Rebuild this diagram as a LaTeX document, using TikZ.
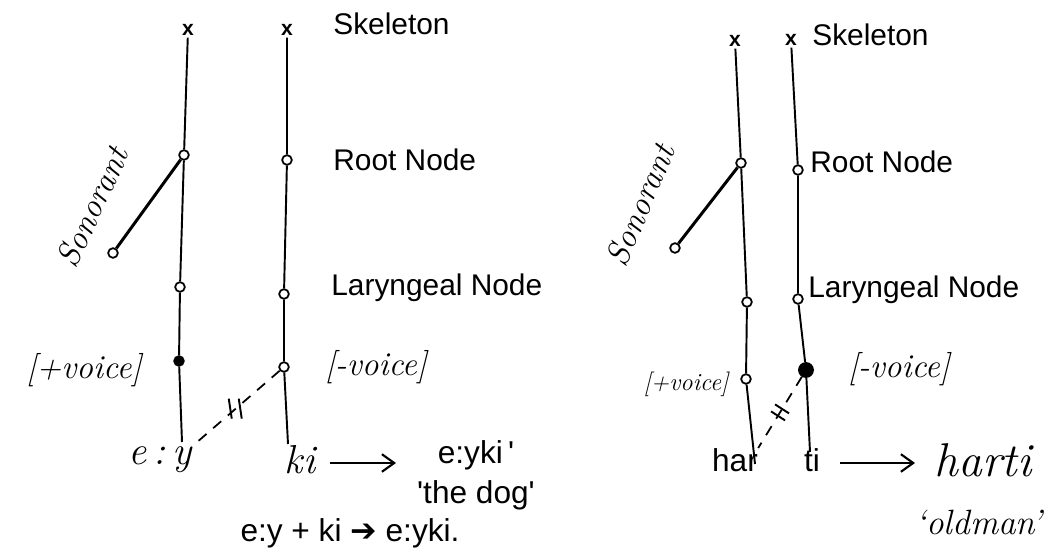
\documentclass[tikz,border=0pt]{standalone}
\usepackage{fontspec}
\setsansfont{Liberation Sans}
\newfontfamily\symfont{DejaVu Sans}
\usepackage{tikz}
\usetikzlibrary{arrows.meta, positioning}

\begin{document}
\begin{tikzpicture}[
        x=0.02cm, y=-0.02cm,
        tier/.style = {draw=black, line width=1.1pt},
        sonline/.style = {draw=black, line width=1.7pt},
        spread/.style = {draw=black, line width=1pt, dash pattern=on 6pt off 5pt},
        fnode/.style = {draw, circle, fill=white, inner sep=0pt, minimum size=5.5pt, line width=1pt},
        fnodefull/.style = {fnode, fill=black},
        skel/.style = {font=\sffamily\bfseries\large, inner sep=1pt},
        tierlabel/.style = {font=\sffamily\fontsize{17}{19}\selectfont, anchor=west, inner sep=0pt},
        hand/.style = {font=\rmfamily\itshape\fontsize{19}{21}\selectfont, inner sep=0pt},
        typed/.style = {font=\sffamily\fontsize{18}{20}\selectfont, inner sep=0pt},
        arrow/.style = {draw=black, line width=1.2pt, -{Straight Barb[length=7pt, width=10pt]}}
    ]
        \useasboundingbox (0,0) rectangle (1063,557);

        % Left diagram: tier A (e:y)
        \node (lAx) [skel] at (188,30) {x};
        \node (lAroot) [fnode] at (184,155) {};
        \node (lAlar) [fnode] at (180,287) {};
        \node (lAvoi) [fnodefull] at (179,361) {};
        \coordinate (lAbot) at (182,442);
        \node (lAson) [fnode] at (113,253) {};
        \draw [tier] (lAx) -- (lAroot) -- (lAlar) -- (lAvoi) -- (lAbot);
        \draw [sonline] (lAroot) -- (lAson);
        \node [hand, rotate=65] at (92,207) {Sonorant};
        \node [hand] at (84,370) {[+voice]};
        \node (lAseg) [hand, font=\rmfamily\itshape\fontsize{23}{25}\selectfont] at (160,460) {e\,:\,y};

        % Left diagram: tier B (ki)
        \node (lBx) [skel] at (287,30) {x};
        \node (lBroot) [fnode] at (287,160) {};
        \node (lBlar) [fnode] at (284,294) {};
        \node (lBvoi) [fnode] at (284,367) {};
        \coordinate (lBbot) at (288,444);
        \draw [tier] (lBx) -- (lBroot) -- (lBlar) -- (lBvoi) -- (lBbot);
        \node [hand] at (376,367) {[-voice]};
        \node (lBseg) [hand, font=\rmfamily\itshape\fontsize{23}{25}\selectfont] at (300,460) {ki};

        % Left spreading line (delinked)
        \draw [spread] (lBvoi) -- coordinate[pos=0.5] (lcut) (lAseg.north east);
        \draw [tier] ([shift={(-7,-10)}]lcut) -- ([shift={(-4,10)}]lcut);
        \draw [tier] ([shift={(3,-10)}]lcut) -- ([shift={(6,10)}]lcut);

        % Left tier labels
        \node (lskel) [tierlabel] at (333,24) {Skeleton};
        \node (lroot) [tierlabel] at (333,160) {Root Node};
        \node (llar) [tierlabel] at (331,288) {Laryngeal Node};

        % Left result
        \node (lout) [typed] at (476,455) {e:yki\,\textquotesingle};
        \node (lgloss) [typed, below=0.2cm of lout] {\textquotesingle the dog\textquotesingle};
        \coordinate (lArrS) at (330,463);
        \coordinate (lArrE) at (396,463);
        \draw [arrow] (lArrS) -- (lArrE);
        \node (lrule) [typed] at (350,533) {e:y + ki {\symfont ➔} e:yki.};

        % Right diagram: tier A (har)
        \node (rAx) [skel] at (735,41) {x};
        \node (rAroot) [fnode] at (741,163) {};
        \node (rAlar) [fnode] at (747,302) {};
        \node (rAvoi) [fnode] at (746,379) {};
        \coordinate (rAbot) at (755,464);
        \node (rAson) [fnode] at (675,248) {};
        \draw [tier] (rAx) -- (rAroot) -- (rAlar) -- (rAvoi) -- (rAbot);
        \draw [sonline] (rAroot) -- (rAson);
        \node [hand, rotate=67] at (640,205) {Sonorant};
        \node [hand, font=\rmfamily\itshape\fontsize{14}{16}\selectfont] at (686,384) {[+voice]};
        \node (rAseg) [typed] at (735,460) {har};

        % Right diagram: tier B (ti)
        \node (rBx) [skel] at (791,40) {x};
        \node (rBroot) [fnode] at (798,170) {};
        \node (rBlar) [fnode] at (798,299) {};
        \node (rBvoi) [fnodefull, minimum size=8pt] at (806,370) {};
        \coordinate (rBbot) at (810,452);
        \draw [tier] (rBx) -- (rBroot) -- (rBlar) -- (rBvoi) -- (rBbot);
        \node [hand] at (899,369) {[-voice]};
        \node (rBseg) [typed] at (812,460) {ti};

        % Right spreading line (delinked)
        \draw [spread] (rBvoi) -- coordinate[pos=0.5] (rcut) (rAseg.north east);
        \draw [tier] ([shift={(-9,-1)}]rcut) -- ([shift={(5,8)}]rcut);
        \draw [tier] ([shift={(-5,-8)}]rcut) -- ([shift={(9,1)}]rcut);

        % Right tier labels
        \node (rskel) [tierlabel] at (812,35) {Skeleton};
        \node (rroot) [tierlabel] at (810,162) {Root Node};
        \node (rlar) [tierlabel] at (808,290) {Laryngeal Node};

        % Right result
        \node (rout) [hand, font=\rmfamily\itshape\fontsize{27}{29}\selectfont] at (983,460) {harti};
        \node (rgloss) [hand, font=\rmfamily\itshape\fontsize{20}{22}\selectfont] at (979,522) {`oldman'};
        \coordinate (rArrS) at (840,463);
        \coordinate (rArrE) at (915,463);
        \draw [arrow] (rArrS) -- (rArrE);

    \end{tikzpicture}
\end{document}
